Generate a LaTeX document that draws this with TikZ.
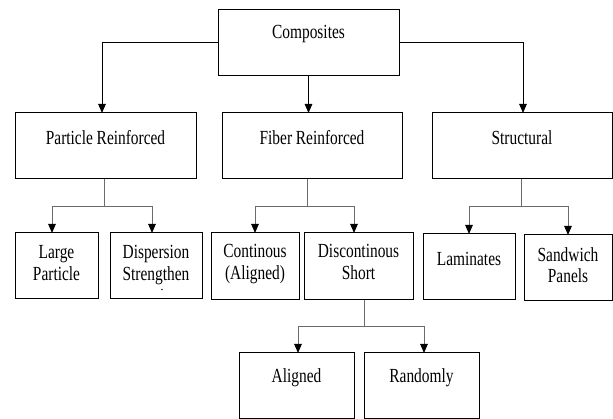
\documentclass[tikz,border=0pt]{standalone}
\usepackage{fontspec}
\setmainfont{Liberation Serif}[FakeStretch=0.77]
\usetikzlibrary{arrows.meta}
\begin{document}
\begin{tikzpicture}[x=1pt,y=-1pt,
  boxs/.style={draw=black, line width=1pt, inner sep=0pt, outer sep=0pt, anchor=north west},
  lbl/.style={inner sep=0pt, outer sep=0pt, font=\fontsize{20}{21.5}\selectfont, align=center},
  blk/.style={draw=black, line width=1pt},
  gry/.style={draw=black!58, line width=1pt},
  arr/.style={-{Triangle[width=7.5pt,length=9pt,color=black]}},
  speck/.style={circle, fill=black!85, inner sep=0pt, minimum size=1.8pt}
]
\useasboundingbox (0,0) rectangle (613,419);
% boxes
\node[boxs, minimum width=181pt, minimum height=66.5pt] (comp) at (218,9.5) {};
\node[boxs, minimum width=181pt, minimum height=66pt] (pr) at (15,113) {};
\node[boxs, minimum width=180pt, minimum height=66pt] (fr) at (222,113) {};
\node[boxs, minimum width=180pt, minimum height=66pt] (st) at (432,113) {};
\node[boxs, minimum width=83pt, minimum height=66pt] (lp) at (15,233) {};
\node[boxs, minimum width=92pt, minimum height=66pt] (ds) at (110,233) {};
\node[boxs, minimum width=88pt, minimum height=67pt] (co) at (211,233) {};
\node[boxs, minimum width=109pt, minimum height=67pt] (dc) at (304,233) {};
\node[boxs, minimum width=92pt, minimum height=66pt] (la) at (423,234) {};
\node[boxs, minimum width=88pt, minimum height=66pt] (sw) at (524,235) {};
\node[boxs, minimum width=115pt, minimum height=65.5pt] (al) at (239,353) {};
\node[boxs, minimum width=115pt, minimum height=65.5pt] (ra) at (364,353) {};
% texts
\node[lbl, anchor=base] (compt) at ([yshift=-29.5pt]comp.north) {Composites};
\node[lbl, anchor=base] (prt) at ([yshift=-32pt]pr.north) {Particle Reinforced};
\node[lbl, anchor=base] (frt) at ([yshift=-32pt]fr.north) {Fiber Reinforced};
\node[lbl, anchor=base] (stt) at ([yshift=-32pt]st.north) {Structural};
\node[lbl, anchor=north] (lpt) at ([yshift=-12.5pt]lp.north) {Large\\Particle};
\node[lbl, anchor=north] (dst) at ([yshift=-12.5pt]ds.north) {Dispersion\\Strengthen};
\node[speck] (dsdot) at (162,289.5) {};
\node[lbl, anchor=north] (cot) at ([yshift=-11.5pt]co.north) {Continous\\(Aligned)};
\node[lbl, anchor=north] (dct) at ([yshift=-11.5pt]dc.north) {Discontinous\\Short};
\node[lbl, anchor=base] (lat) at ([yshift=-32pt]la.north) {Laminates};
\node[lbl, anchor=north] (swt) at ([yshift=-12.5pt]sw.north) {Sandwich\\Panels};
\node[lbl, anchor=base] (alt) at ([yshift=-30pt]al.north) {Aligned};
\node[lbl, anchor=base] (rat) at ([yshift=-30pt]ra.north) {Randomly};
% level 1 connectors
\draw[blk, arr] (comp.west) -| ([xshift=-3.5pt]pr.north);
\draw[blk, arr] (comp.east) -| ([xshift=1pt]st.north);
\draw[blk, arr] (comp.south) -- (comp.south |- fr.north);
% level 2 connectors
\draw[gry] ([xshift=-1.5pt]pr.south) -- ++(0,28) coordinate (pj);
\draw[gry, arr] (pj) -| ([xshift=-4.5pt]lp.north);
\draw[gry, arr] (pj) -| ([xshift=-4pt]ds.north);
\draw[gry] ([xshift=-5pt]fr.south) -- ++(0,28) coordinate (fj);
\draw[gry, arr] (fj) -| (co.north);
\draw[gry, arr] (fj) -| ([xshift=-4.5pt]dc.north);
\draw[gry] ([xshift=-1pt]st.south) -- ++(0,28) coordinate (sj);
\draw[gry, arr] (sj) -| (la.north);
\draw[gry, arr] (sj) -| (sw.north);
% level 3 connectors
\draw[gry] ([xshift=5.5pt]dc.south) -- ++(0,27) coordinate (dj);
\draw[gry, arr] (dj) -| ([xshift=1.5pt]al.north);
\draw[gry, arr] (dj) -| ([xshift=2.5pt]ra.north);
\end{tikzpicture}
\end{document}
